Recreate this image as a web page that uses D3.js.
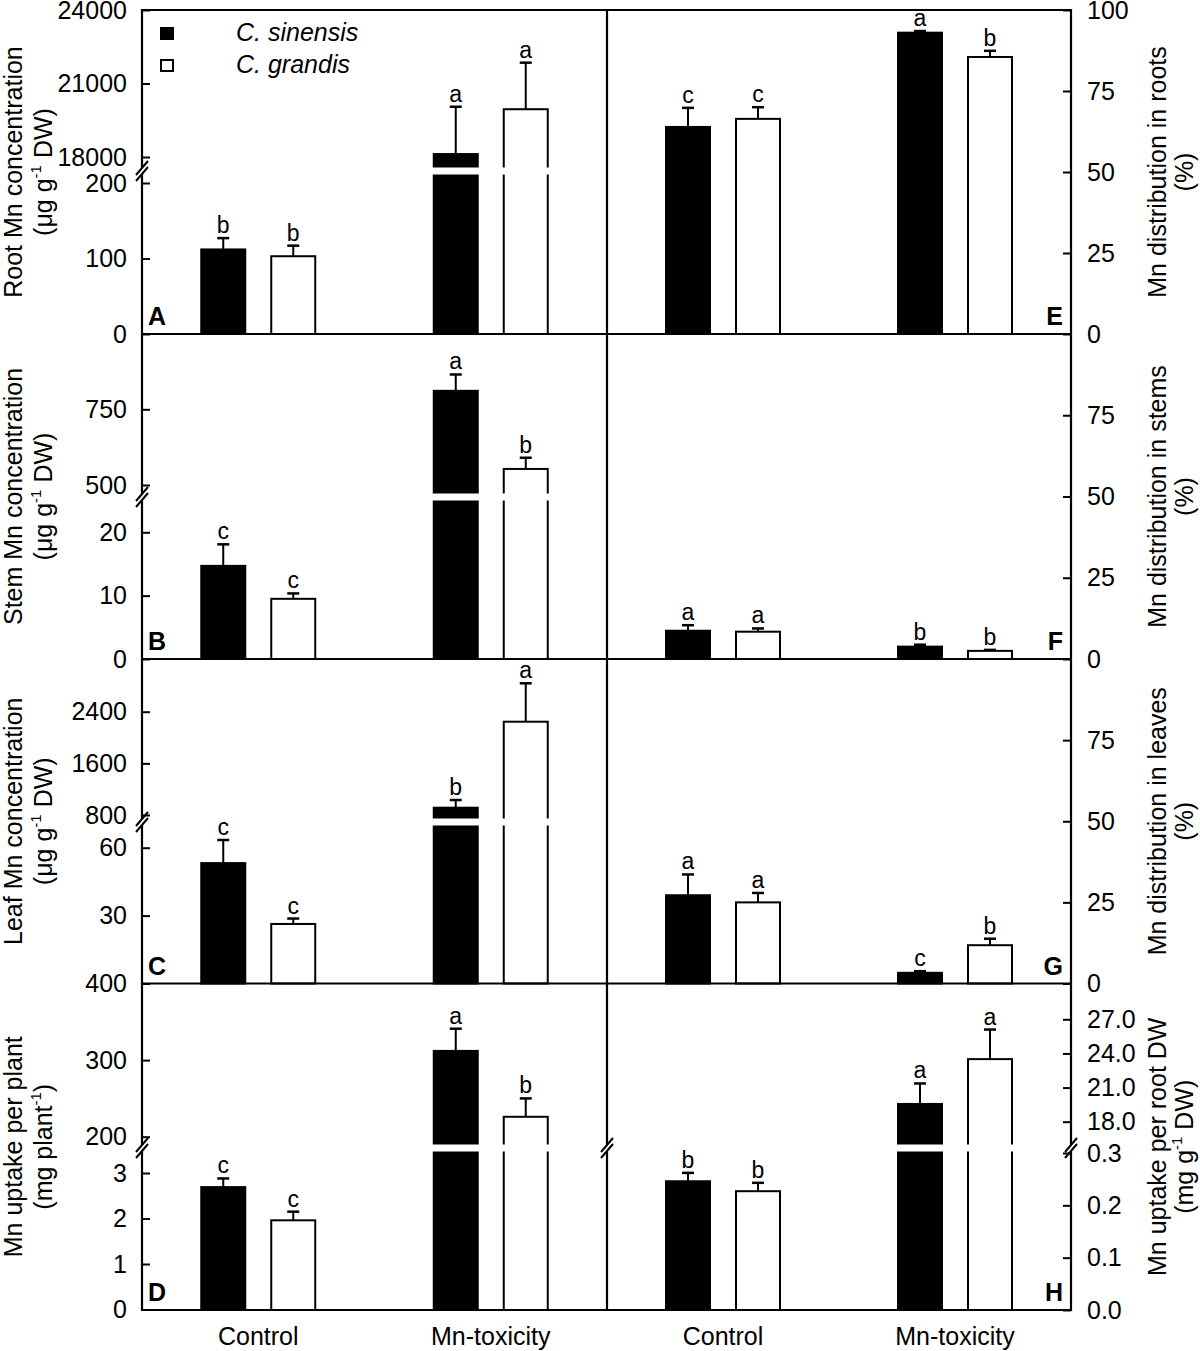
<!DOCTYPE html>
<html>
<head>
<meta charset="utf-8">
<script src="https://cdn.jsdelivr.net/npm/d3@7"></script>
<style>
body { margin: 0; background: #fff; }
text { font-family: Arial, "Liberation Sans", sans-serif; fill: #000; }
</style>
</head>
<body>
<svg id="chart" width="1200" height="1351"></svg>
<script>
// groups and species
var groups = ["Control", "Mn-toxicity"];
var species = ["C. sinensis", "C. grandis"];

// values are [group][species] = [[sinensis, grandis], [sinensis, grandis]]
// A root Mn concentration
var rootConc = [[112, 103], [18120, 19950]];
var rootConcSE = [[15, 14], [1930, 1900]];
var rootConcSig = [["b", "b"], ["a", "a"]];
// B stem Mn concentration
var stemConc = [[14.7, 9.5], [811, 553]];
var stemConcSE = [[3.4, 0.85], [54, 37]];
var stemConcSig = [["c", "c"], ["a", "b"]];
// C leaf Mn concentration
var leafConc = [[53.2, 26.3], [913, 2245]];
var leafConcSE = [[10.2, 2.4], [119, 595]];
var leafConcSig = [["c", "c"], ["b", "a"]];
// D Mn uptake per plant
var uptakePlant = [[2.69, 1.96], [312, 226]];
var uptakePlantSE = [[0.19, 0.19], [29, 24]];
var uptakePlantSig = [["c", "c"], ["a", "b"]];
// E distribution in roots
var distRoots = [[63.9, 66.4], [93.0, 85.5]];
var distRootsSE = [[5.9, 3.6], [0.5, 1.9]];
var distRootsSig = [["c", "c"], ["a", "b"]];
// F distribution in stems
var distStems = [[8.7, 8.4], [3.8, 2.5]];
var distStemsSE = [[1.7, 1.0], [0.6, 0.3]];
var distStemsSig = [["a", "a"], ["b", "b"]];
// G distribution in leaves
var distLeaves = [[27.2, 25.0], [3.3, 11.8]];
var distLeavesSE = [[6.4, 2.9], [0.5, 2.0]];
var distLeavesSig = [["a", "a"], ["c", "b"]];
// H Mn uptake per root DW
var uptakeRoot = [[0.246, 0.227], [19.56, 23.5]];
var uptakeRootSE = [[0.016, 0.016], [1.8, 2.6]];
var uptakeRootSig = [["b", "b"], ["a", "a"]];

// tick labels
var ticksA = { low: [0, 100, 200], high: [18000, 21000, 24000] };
var ticksB = { low: [0, 10, 20], high: [500, 750] };
var ticksC = { low: [30, 60], high: [800, 1600, 2400] };
var ticksD = { low: [0, 1, 2, 3], high: [200, 300, 400] };
var ticksE = { low: [0, 25, 50, 75, 100] };
var ticksF = { low: [0, 25, 50, 75] };
var ticksG = { low: [0, 25, 50, 75] };
var ticksH = { low: [0, 0.1, 0.2, 0.3], high: [18, 21, 24, 27] };

var svg = d3.select("#chart");
var colX = [[142, 607], [607, 1071]];
var rowY = [10, 334, 659, 983.5, 1310];
var fontSize = 25;

var panels = [
  { id: "A", row: 0, col: 0, vals: rootConc, se: rootConcSE, sig: rootConcSig, ticks: ticksA,
    low: [[0, 200], [334, 183]], high: [[18000, 24000], [157, 10]], split: 1000, breakY: 171,
    t1: "Root Mn concentration", t2: ["(\u03bcg g", "-1", " DW)"], fmt: d3.format("d") },
  { id: "B", row: 1, col: 0, vals: stemConc, se: stemConcSE, sig: stemConcSig, ticks: ticksB,
    low: [[0, 20], [659, 532.3]], high: [[500, 750], [485, 409.3]], split: 100, breakY: 497,
    t1: "Stem Mn concentration", t2: ["(\u03bcg g", "-1", " DW)"], fmt: d3.format("d") },
  { id: "C", row: 2, col: 0, vals: leafConc, se: leafConcSE, sig: leafConcSig, ticks: ticksC,
    low: [[0, 60], [983.5, 847.7]], high: [[800, 2400], [815, 711.7]], split: 100, breakY: 822,
    t1: "Leaf Mn concentration", t2: ["(\u03bcg g", "-1", " DW)"], fmt: d3.format("d") },
  { id: "D", row: 3, col: 0, vals: uptakePlant, se: uptakePlantSE, sig: uptakePlantSig, ticks: ticksD,
    low: [[0, 3], [1309.5, 1173]], high: [[200, 400], [1136.7, 983.5]], split: 100, breakY: 1148,
    t1: "Mn uptake per plant", t2: ["(mg plant", "-1", ")"], fmt: d3.format("d") },
  { id: "E", row: 0, col: 1, vals: distRoots, se: distRootsSE, sig: distRootsSig, ticks: ticksE,
    low: [[0, 100], [334, 10]], t1: "Mn distribution in roots", t2: ["(%)"], fmt: d3.format("d") },
  { id: "F", row: 1, col: 1, vals: distStems, se: distStemsSE, sig: distStemsSig, ticks: ticksF,
    low: [[0, 100], [659, 334]], t1: "Mn distribution in stems", t2: ["(%)"], fmt: d3.format("d") },
  { id: "G", row: 2, col: 1, vals: distLeaves, se: distLeavesSE, sig: distLeavesSig, ticks: ticksG,
    low: [[0, 100], [983.5, 659]], t1: "Mn distribution in leaves", t2: ["(%)"], fmt: d3.format("d") },
  { id: "H", row: 3, col: 1, vals: uptakeRoot, se: uptakeRootSE, sig: uptakeRootSig, ticks: ticksH,
    low: [[0, 0.3], [1310, 1153]], high: [[18, 27], [1121.7, 1019.3]], split: 1, breakY: 1148,
    t1: "Mn uptake per root DW", t2: ["(mg g", "-1", " DW)"], fmt: d3.format(".1f") }
];

var xs = d3.scaleBand().domain(species).range([-57, 57]).paddingInner(0.3714).paddingOuter(0);

function breakMark(x, y) {
  svg.append("rect").attr("x", x - 3).attr("y", y - 3).attr("width", 6).attr("height", 6).attr("fill", "#fff");
  [-3, 3].forEach(function(d) {
    svg.append("line")
      .attr("x1", x - 6).attr("y1", y + d + 7)
      .attr("x2", x + 6).attr("y2", y + d - 7)
      .attr("stroke", "#000").attr("stroke-width", 2);
  });
}

panels.forEach(function(p) {
  var x0 = colX[p.col][0], x1 = colX[p.col][1];
  var bottom = rowY[p.row + 1], top = rowY[p.row];
  var xg = d3.scaleBand().domain(groups).range([x0, x1]).padding(0);
  var lo = d3.scaleLinear().domain(p.low[0]).range(p.low[1]);
  var hi = p.high ? d3.scaleLinear().domain(p.high[0]).range(p.high[1]) : null;
  var y = function(v) { return (hi && v > p.split) ? hi(v) : lo(v); };

  // axes
  var axisX = p.col === 0 ? x0 : x1;
  var mk = p.col === 0 ? d3.axisLeft : d3.axisRight;
  var scales = [[lo, p.ticks.low]];
  if (hi) scales.push([hi, p.ticks.high]);
  scales.forEach(function(s) {
    var g = svg.append("g")
      .attr("transform", "translate(" + axisX + ",0)")
      .call(mk(s[0]).tickValues(s[1]).tickSize(-8).tickPadding(p.col === 0 ? 15 : 16).tickFormat(p.fmt));
    g.select(".domain").remove();
    g.selectAll(".tick line").attr("stroke-width", 2);
    g.selectAll("text").attr("font-size", fontSize).attr("font-family", "Arial, 'Liberation Sans', sans-serif");
  });

  // bars
  groups.forEach(function(grp, gi) {
    species.forEach(function(sp, si) {
      var v = p.vals[gi][si], e = p.se[gi][si];
      var bx = xg(grp) + xg.bandwidth() / 2 + xs(sp);
      var bw = xs.bandwidth();
      var cx = bx + bw / 2;
      var yt = y(v), ye = y(v + e);
      svg.append("line").attr("x1", cx).attr("x2", cx).attr("y1", yt).attr("y2", ye)
        .attr("stroke", "#000").attr("stroke-width", 2);
      svg.append("line").attr("x1", cx - 6).attr("x2", cx + 6).attr("y1", ye).attr("y2", ye)
        .attr("stroke", "#000").attr("stroke-width", 2.5);
      svg.append("rect").attr("x", bx).attr("y", yt).attr("width", bw).attr("height", bottom - yt)
        .attr("fill", si === 0 ? "#000" : "#fff").attr("stroke", "#000").attr("stroke-width", 2);
      if (hi && v > p.split) {
        svg.append("rect").attr("x", bx - 3).attr("y", p.breakY - 3.5).attr("width", bw + 6).attr("height", 7)
          .attr("fill", "#fff");
      }
      svg.append("text").attr("x", cx).attr("y", ye - 5).attr("text-anchor", "middle")
        .attr("font-size", 23).text(p.sig[gi][si]);
    });
  });

  // panel letter
  svg.append("text")
    .attr("x", p.col === 0 ? x0 + 6 : x1 - 8)
    .attr("y", bottom - 9)
    .attr("text-anchor", p.col === 0 ? "start" : "end")
    .attr("font-size", 25).attr("font-weight", "bold")
    .text(p.id);

  // y title
  var cy = (top + bottom) / 2;
  var tx = p.col === 0 ? [22, 52] : [1166, 1193];
  var t1 = svg.append("text").attr("transform", "translate(" + tx[0] + "," + cy + ") rotate(-90)")
    .attr("text-anchor", "middle").attr("font-size", fontSize).text(p.t1);
  var t2 = svg.append("text").attr("transform", "translate(" + tx[1] + "," + cy + ") rotate(-90)")
    .attr("text-anchor", "middle").attr("font-size", fontSize);
  t2.append("tspan").text(p.t2[0]);
  if (p.t2.length > 1) {
    t2.append("tspan").attr("dy", -11).attr("font-size", 15).text(p.t2[1]);
    t2.append("tspan").attr("dy", 11).text(p.t2[2]);
  }
});

// frame lines
rowY.forEach(function(yy) {
  svg.append("line").attr("x1", 142).attr("x2", 1071).attr("y1", yy).attr("y2", yy)
    .attr("stroke", "#000").attr("stroke-width", 2.2);
});
[142, 607, 1071].forEach(function(xx) {
  svg.append("line").attr("x1", xx).attr("x2", xx).attr("y1", 9).attr("y2", 1311)
    .attr("stroke", "#000").attr("stroke-width", 2.2);
});

// axis breaks
panels.filter(function(p) { return p.high; }).forEach(function(p) {
  if (p.col === 0) breakMark(142, p.breakY);
  else { breakMark(607, p.breakY); breakMark(1071, p.breakY); }
});

// x labels
[0, 1].forEach(function(c) {
  var xg = d3.scaleBand().domain(groups).range(colX[c]).padding(0);
  groups.forEach(function(grp) {
    svg.append("text").attr("x", xg(grp) + xg.bandwidth() / 2).attr("y", 1345)
      .attr("text-anchor", "middle").attr("font-size", fontSize).text(grp);
  });
});

// legend
species.forEach(function(sp, i) {
  svg.append("rect").attr("x", 161).attr("y", 28 + i * 32).attr("width", 12).attr("height", 11)
    .attr("fill", i === 0 ? "#000" : "#fff").attr("stroke", "#000").attr("stroke-width", 2);
  svg.append("text").attr("x", 236).attr("y", 41 + i * 32).attr("font-size", fontSize)
    .attr("font-style", "italic").text(sp);
});
</script>
</body>
</html>
